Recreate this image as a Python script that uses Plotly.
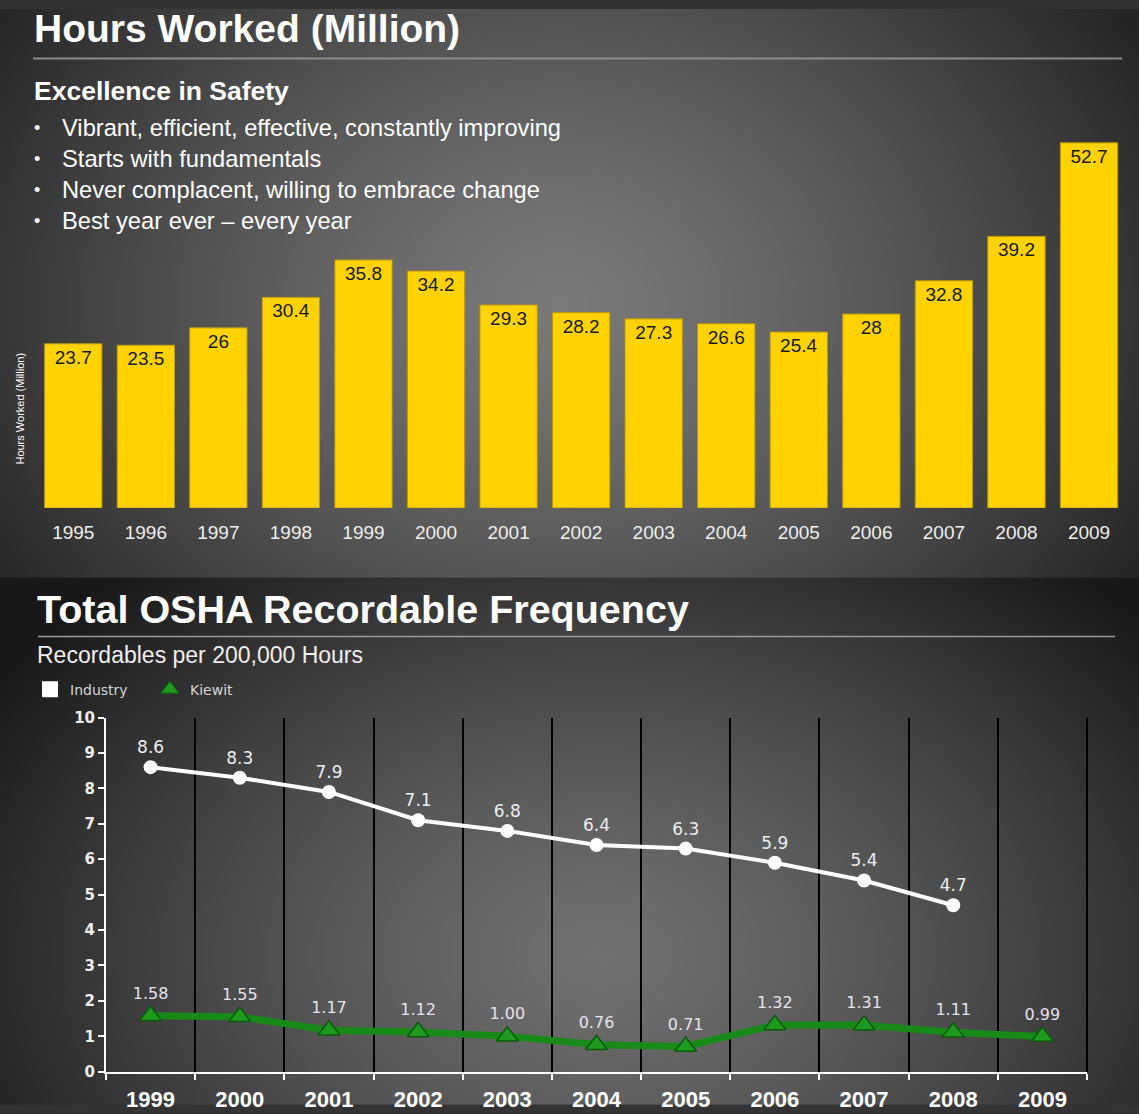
import numpy as np
import plotly.graph_objects as go

W, H = 1139, 1114

# ---------------- data ----------------
bar_years = ["1995", "1996", "1997", "1998", "1999", "2000", "2001", "2002",
             "2003", "2004", "2005", "2006", "2007", "2008", "2009"]
hours_worked = [23.7, 23.5, 26, 30.4, 35.8, 34.2, 29.3, 28.2, 27.3, 26.6,
                25.4, 28, 32.8, 39.2, 52.7]

osha_years = ["1999", "2000", "2001", "2002", "2003", "2004", "2005", "2006",
              "2007", "2008", "2009"]
industry_years = osha_years[:10]
industry_rate = [8.6, 8.3, 7.9, 7.1, 6.8, 6.4, 6.3, 5.9, 5.4, 4.7]
kiewit_rate = [1.58, 1.55, 1.17, 1.12, 1.00, 0.76, 0.71, 1.32, 1.31, 1.11, 0.99]
y_ticks = list(range(0, 11))

title_top = "Hours Worked (Million)"
subtitle_top = "Excellence in Safety"
bullets = [
    "Vibrant, efficient, effective, constantly improving",
    "Starts with fundamentals",
    "Never complacent, willing to embrace change",
    "Best year ever \u2013 every year",
]
title_bottom = "Total OSHA Recordable Frequency"
subtitle_bottom = "Recordables per 200,000 Hours"

FONT = "Liberation Sans, Arial, sans-serif"
WIDE = "DejaVu Sans, Verdana, sans-serif"

# vertical mapping of the page photograph (layout helper)
V_OFF, V_SCALE = 8.5, 0.9837


def px(x):
    return x / W


def fy(y):
    """target picture y (px from top) -> figure px from top"""
    return (y - V_OFF) / V_SCALE


def py(y):
    return 1 - fy(y) / H


# ---------------- background gradients (styling) ----------------
SPLIT = fy(577)
nx = 120
gx = np.linspace(W / nx / 2, W - W / nx / 2, nx)


def panel(y0, y1, cx, cy, rx, ry, light, dark, p, n=70):
    dy = (y1 - y0) / n
    gy = np.linspace(y0 + dy / 2, y1 - dy / 2, n)
    X, Y = np.meshgrid(gx, gy)
    d = np.sqrt(((X - cx) / rx) ** 2 + ((Y - cy) / ry) ** 2)
    z = light - (light - dark) * np.clip(d, 0, 1) ** p
    return gy, z


gy_top, z_top = panel(0, SPLIT, 560, 300, 760, 620, 122, 22, 1.25)
gy_bot, z_bot = panel(SPLIT, H, 600, 960, 720, 520, 112, 24, 1.3)

fig = go.Figure()
gray = [[0, "rgb(0,0,0)"], [1, "rgb(255,255,255)"]]
for gy, z in ((gy_top, z_top), (gy_bot, z_bot)):
    fig.add_trace(go.Heatmap(x=gx, y=gy, z=z, zmin=0, zmax=255, colorscale=gray,
                             showscale=False, zsmooth="best", hoverinfo="skip",
                             xaxis="x", yaxis="y"))

# ---------------- bar chart ----------------
fig.add_trace(go.Bar(
    x=bar_years, y=hours_worked, xaxis="x2", yaxis="y2",
    marker=dict(color="#FFD200", line=dict(color="#B8960C", width=1)),
    text=hours_worked, texttemplate="%{y}", textposition="inside",
    insidetextanchor="end", textangle=0,
    textfont=dict(family=FONT, size=19, color="#1a1a1a"),
    showlegend=False, hoverinfo="skip",
))

# ---------------- line chart ----------------
fig.add_trace(go.Scatter(
    x=osha_years, y=kiewit_rate, xaxis="x3", yaxis="y3",
    mode="lines+markers+text",
    line=dict(color="#188A18", width=7),
    marker=dict(symbol="triangle-up", size=19, color="#1E9A1E",
                line=dict(color="#0B5A0B", width=1.5)),
    text=kiewit_rate, texttemplate="%{y:.2f}", textposition="top center",
    textfont=dict(family=WIDE, size=16, color="#E6E2EC"),
    cliponaxis=False, showlegend=False, hoverinfo="skip",
))
fig.add_trace(go.Scatter(
    x=industry_years, y=industry_rate, xaxis="x3", yaxis="y3",
    mode="lines+markers+text",
    line=dict(color="white", width=4),
    marker=dict(symbol="circle", size=14, color="white"),
    text=industry_rate, texttemplate="%{y}", textposition="top center",
    textfont=dict(family=WIDE, size=17, color="#EEEEEE"),
    cliponaxis=False, showlegend=False, hoverinfo="skip",
))
# legend entries
fig.add_trace(go.Scatter(x=[None], y=[None], xaxis="x3", yaxis="y3", mode="markers",
                         name="Industry",
                         marker=dict(symbol="square", size=16, color="white")))
fig.add_trace(go.Scatter(x=[None], y=[None], xaxis="x3", yaxis="y3", mode="markers",
                         name="Kiewit",
                         marker=dict(symbol="triangle-up", size=16, color="#1E9A1E",
                                     line=dict(color="#0B5A0B", width=1))))

# ---------------- text ----------------
P = dict(xref="paper", yref="paper", showarrow=False)
ann = []
ann.append(dict(text=title_top, x=px(32), y=py(28), xanchor="left", yanchor="middle",
                font=dict(family=FONT, size=39, color="white", weight="bold"), **P))
ann.append(dict(text=subtitle_top, x=px(32), y=py(90), xanchor="left", yanchor="middle",
                font=dict(family=FONT, size=26.5, color="white", weight="bold"), **P))
for i, b in enumerate(bullets):
    yy = 127 + i * 31.3
    ann.append(dict(text="\u2022", x=px(37), y=py(yy), xanchor="center", yanchor="middle",
                    font=dict(family=FONT, size=18, color="white"), **P))
    ann.append(dict(text=b, x=px(60), y=py(yy), xanchor="left", yanchor="middle",
                    font=dict(family=FONT, size=23.7, color="white"), **P))
ann.append(dict(text="Hours Worked (Million)", x=px(20), y=py(408), xanchor="center",
                yanchor="middle", textangle=-90,
                font=dict(family=FONT, size=11, color="white"), **P))
ann.append(dict(text=title_bottom, x=px(35), y=py(608), xanchor="left", yanchor="middle",
                font=dict(family=FONT, size=39.5, color="white", weight="bold"), **P))
ann.append(dict(text=subtitle_bottom, x=px(35), y=py(654), xanchor="left", yanchor="middle",
                font=dict(family=FONT, size=23, color="#EEEEEE"), **P))

shapes = [
    dict(type="line", xref="paper", yref="paper", x0=px(33), x1=px(1122), y0=py(58), y1=py(58),
         line=dict(color="#8C8C8C", width=2)),
    dict(type="line", xref="paper", yref="paper", x0=px(38), x1=px(1115), y0=py(636), y1=py(636),
         line=dict(color="#9A9A9A", width=1.5)),
    dict(type="line", xref="x3 domain", yref="y3 domain", x0=1, x1=1, y0=0, y1=1,
         line=dict(color="black", width=2)),
]

bar_bottom, bar_top_px = 507.5, 100
px_per_unit = 6.93

fig.update_layout(
    width=W, height=H,
    margin=dict(l=0, r=0, t=0, b=0),
    paper_bgcolor="#333333", plot_bgcolor="rgba(0,0,0,0)",
    font=dict(family=FONT, color="white"),
    annotations=ann, shapes=shapes,
    bargap=0.21,
    showlegend=True,
    legend=dict(orientation="h", x=px(30), y=py(689), xanchor="left", yanchor="middle",
                bgcolor="rgba(0,0,0,0)", font=dict(family=WIDE, size=14, color="#D4D4D4"),
                entrywidth=75, entrywidthmode="pixels", itemclick=False),
    xaxis=dict(domain=[0, 1], range=[0, W], visible=False, fixedrange=True),
    yaxis=dict(domain=[0, 1], range=[H, 0], visible=False, fixedrange=True),
    xaxis2=dict(domain=[px(37), px(1125.3)], anchor="y2", type="category",
                showgrid=False, showline=False, zeroline=False, ticks="",
                ticklabelstandoff=11,
                tickfont=dict(family=FONT, size=19, color="#EEEEEE")),
    yaxis2=dict(domain=[py(bar_bottom), py(bar_top_px)], anchor="x2",
                range=[0, (bar_bottom - bar_top_px) / px_per_unit], visible=False),
    xaxis3=dict(domain=[px(106), px(1087)], anchor="y3", type="category",
                categoryorder="array", categoryarray=osha_years,
                range=[-0.5, len(osha_years) - 0.5],
                tickson="boundaries", ticks="outside", ticklen=6, tickwidth=2,
                tickcolor="white", showline=True, linecolor="white", linewidth=2,
                showgrid=True, gridcolor="black", gridwidth=2, zeroline=False,
                ticklabelstandoff=7,
                tickfont=dict(family=FONT, size=22, color="white", weight="bold")),
    yaxis3=dict(domain=[py(1071), py(717)], anchor="x3", range=[0, 10],
                tickvals=y_ticks, ticks="outside", ticklen=6, tickwidth=2,
                tickcolor="white", showline=True, linecolor="white", linewidth=2,
                showgrid=False, zeroline=False,
                tickfont=dict(family=WIDE, size=15, color="#EEEEEE", weight="bold")),
)

fig.write_html(
    "out.html",
    config={"displayModeBar": False, "staticPlot": True},
    post_script=(
        "var gd=document.getElementById('{plot_id}');"
        "gd.style.position='fixed';gd.style.left='0px';gd.style.top='0px';"
        "document.body.style.margin='0';document.body.style.background='#222';"
        "document.documentElement.style.overflow='hidden';"
        "document.body.style.overflow='hidden';"
    ),
)
